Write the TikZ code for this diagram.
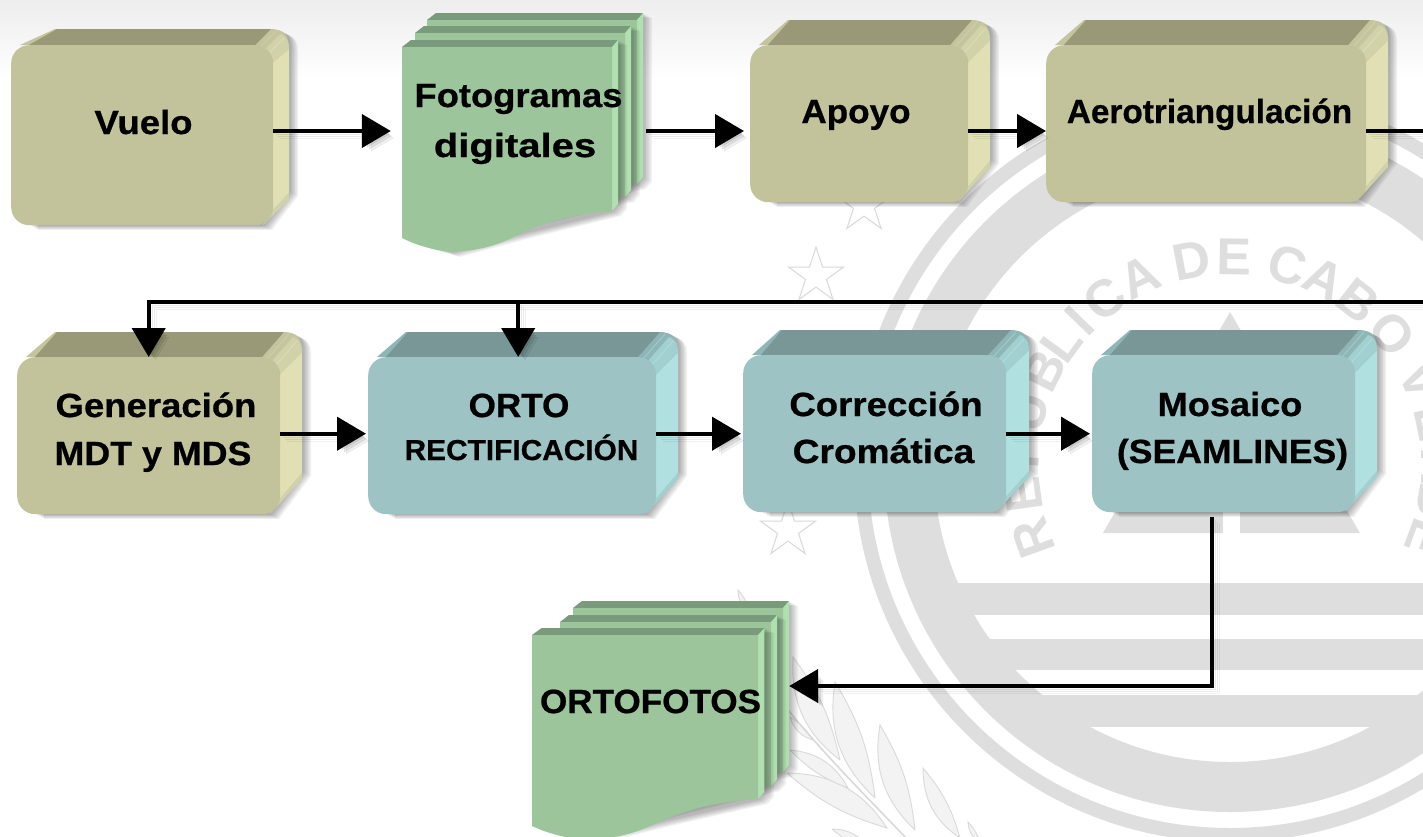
\documentclass[tikz,border=0pt]{standalone}
\usepackage{graphicx}
\usepackage{fontspec}
\setmainfont{Liberation Sans}[BoldFeatures={FakeStretch=1.08,FakeBold=0.7}]
\newfontfamily\sealfont{Liberation Sans Bold}
\usetikzlibrary{arrows.meta,calc,shapes.geometric}
\definecolor{olivef}{HTML}{C2C39B}\definecolor{olivet}{HTML}{999978}\definecolor{olives}{HTML}{E0E0B4}\definecolor{olivem}{HTML}{C4C49E}\definecolor{olivel}{HTML}{D2D2AA}
\definecolor{tealf}{HTML}{9DC3C4}\definecolor{tealt}{HTML}{7A9797}\definecolor{teals}{HTML}{B0E0E0}\definecolor{tealm}{HTML}{8FB5B6}\definecolor{teall}{HTML}{A2CFCF}
\definecolor{sheetf}{HTML}{9CC59C}\definecolor{sheets}{HTML}{B0E0B0}\definecolor{sheett}{HTML}{7A9A7C}
\definecolor{sealgray}{HTML}{DEDEDE}\definecolor{leaffill}{HTML}{F3F3F3}\definecolor{leafline}{HTML}{D9D9D9}
\tikzset{
  lab/.style={font=\bfseries\fontsize{32.5}{36}\selectfont,text=black,inner sep=0pt,anchor=base},
  labsmall/.style={font=\bfseries\fontsize{28}{32}\selectfont,text=black,inner sep=0pt,anchor=base},
  conn/.style={line width=4.4pt,draw=black,-{Triangle[length=29pt,width=33pt]},
    preaction={draw=black,opacity=.06,transform canvas={xshift=7pt,yshift=-7pt}},
    preaction={draw=black,opacity=.08,transform canvas={xshift=5pt,yshift=-5pt}},
    preaction={draw=black,opacity=.08,transform canvas={xshift=3pt,yshift=-3pt}}},
  connplain/.style={line width=4.4pt,draw=black,
    preaction={draw=black,opacity=.06,transform canvas={xshift=7pt,yshift=-7pt}},
    preaction={draw=black,opacity=.08,transform canvas={xshift=5pt,yshift=-5pt}},
    preaction={draw=black,opacity=.08,transform canvas={xshift=3pt,yshift=-3pt}}},
  leafshape/.style={fill=leaffill,draw=leafline,line width=.9pt},
  starmark/.style={star,star points=5,star point ratio=2.618,draw=leafline,line width=1pt,inner sep=0pt,minimum size=58pt},
  sealletter/.style={font=\sealfont\fontsize{52}{52}\selectfont,text=sealgray,inner sep=0pt}
}
\newcommand\tx[2]{\scalebox{#1}[1.03]{#2}}
% name, x0,y0,x1,y1, dx,dy, palette
\newcommand\solidbox[8]{%
  \foreach \s in {1.5,3,4.5,6,7.5,9}{%
    \fill[black,opacity=.06,xshift=\s pt,yshift={-0.55*\s*1pt}]
      (#2+18,#3) -- (#2+60-#6,#3-#7) -- (#4+#6-19,#3-#7)
      .. controls (#4+#6-5,#3-#7) and (#4+#6,#3-#7+6) .. (#4+#6,#3-#7+16)
      -- (#4+#6,#5-#7-18) -- (#4-10,#5) -- (#2+18,#5) -- cycle;
  }
  \fill[#8m] (#2+9,#3) -- (#2+60-#6,#3-#7) -- (#2+68-#6,#3-#7) -- (#2+24,#3) -- cycle;
  \fill[#8s] (#4-1,#3+15) -- (#4+#6,#3-#7+18) -- (#4+#6,#5-#7-16) -- (#4-1,#5-14) -- cycle;
  \fill[#8m] (#4-18,#3) -- (#4-18+#6,#3-#7) -- (#4+#6-19,#3-#7)
      .. controls (#4+#6-5,#3-#7) and (#4+#6,#3-#7+6) .. (#4+#6,#3-#7+20)
      -- (#4-1,#3+18) -- cycle;
  \fill[#8l] (#4-9,#3+5) -- (#4-9+#6,#3-#7+5) .. controls (#4+#6-5,#3-#7+6) and (#4+#6,#3-#7+10) .. (#4+#6,#3-#7+20) -- (#4-1,#3+18) -- cycle;
  \draw[#8l,line width=.7pt] (#4-13,#3+2) -- (#4-13+#6,#3-#7+2);
  \draw[#8s,line width=.7pt] (#4-5,#3+9) -- (#4-5+#6,#3-#7+9);
  \fill[#8l] (#4-1,#5-14) -- (#4+#6,#5-#7-16) -- (#4+#6,#5-#7-10) -- (#4-10,#5) -- cycle;
  \fill[#8t] (#2+18,#3) -- (#2+62-#6,#3-#7) -- (#4-18+#6,#3-#7) -- (#4-18,#3) -- cycle;
  \node[fill=#8f,rounded corners=18pt,inner sep=0pt,anchor=north west,
    minimum width={(#4-#2)*1pt},minimum height={(#5-#3)*1pt}] (#1) at (#2,#3) {};
}
% x, ytop, width
\newcommand\pagesheet[3]{%
  \begin{scope}[shift={(#1,#2)},xscale=#3/210]
    \foreach \s in {1.5,3,4.5,6,7.5,9}{%
      \fill[black,opacity=.05,xshift=\s pt,yshift={-0.55*\s*1pt}]
        (9,-7) -- (216,-7) -- (216,157) -- (210,164) -- (120,186) -- (49,205) -- (0,191) -- (0,0) -- cycle;
    }
    \fill[sheett] (0,0) -- (9,-7) -- (216,-7) -- (210,0) -- cycle;
    \fill[sheets] (210,0) -- (216,-7) -- (216,157) -- (210,164) -- cycle;
    \fill[sheetf] (0,0) -- (210,0) -- (210,164)
      .. controls (180,166) and (150,172) .. (120,186)
      .. controls (100,196) and (85,203) .. (49,205)
      .. controls (30,203) and (15,198) .. (0,191) -- cycle;
  \end{scope}
}
\newcommand\leaf[4]{\draw[leafshape] (#1,#2) to[bend left=28] (#3,#4) to[bend left=12] (#1,#2);}
\begin{document}
\begin{tikzpicture}[x=1pt,y=-1pt]
  \path[use as bounding box] (0,0) rectangle (1423,836);
  \clip (0,0) rectangle (1423,836);
  \fill[white] (0,0) rectangle (1423,836);
  \shade[top color=black!7,bottom color=white] (0,0) rectangle (1423,80);
  % seal
  \coordinate (c) at (1230,466);
  \fill[sealgray,even odd rule] (c) circle[radius=376pt] (c) circle[radius=362pt];
  \fill[sealgray,even odd rule] (c) circle[radius=346pt] (c) circle[radius=296pt];
  \begin{scope}
    \clip (c) circle[radius=300pt];
    \fill[sealgray] (900,583) rectangle (1423,615);
    \fill[sealgray] (900,639) rectangle (1423,670);
    \fill[sealgray] (900,695) rectangle (1423,727);
  \end{scope}
  \fill[sealgray] (1230,312) -- (1360,533) -- (1103,533) -- cycle;
  \fill[white] (1223,400) rectangle (1240,534);
  \foreach \ch/\th [count=\n] in {R/-110,E/-98,P/-86,U/-75,B/-63,L/-54,I/-46,C/-37,A/-25.5,D/-10.7,E/1,C/16,A/26.7,B/38,O/50.7,V/66,E/78,R/90,D/100,E/110}
    \node[sealletter,rotate={0-\th}] (sl\n) at ({1230+209*sin(\th)},{466-209*cos(\th)}) {\ch};
  % stars
  \node[starmark] (st1) at (864,205) {};
  \node[starmark] (st2) at (816,276) {};
  \node[starmark] (st3) at (788,530) {};
  % laurel
  \leaf{875}{798}{835}{682}
  \leaf{915}{830}{880}{725}
  \leaf{960}{838}{923}{768}
  \leaf{980}{842}{968}{822}
  \leaf{840}{760}{793}{657}
  \leaf{813}{740}{790}{717}
  \leaf{750}{612}{738}{590}
  \leaf{787}{773}{887}{828}
  \leaf{790}{750}{848}{788}
  \leaf{832}{829}{870}{850}
  \draw[leafline,line width=1.6pt] (780,700) .. controls (820,750) and (860,790) .. (908,840);
  % first row
  \solidbox{vuelo}{11}{45}{273}{225}{16}{16}{olive}
  \pagesheet{427}{20}{210}
  \pagesheet{415}{33}{210}
  \pagesheet{402}{47}{210}
  \node[inner sep=0pt,minimum width=244pt,minimum height=236pt] (foto) at (524,131) {};
  \solidbox{apoyo}{750}{45}{968}{202}{22}{25}{olive}
  \solidbox{aero}{1046}{45}{1366}{202}{22}{25}{olive}
  % second row
  \solidbox{gen}{17}{357}{280}{514}{22}{25}{olive}
  \solidbox{orto}{368}{357}{656}{514}{22}{25}{teal}
  \solidbox{corr}{743}{355}{1006}{512}{23}{25}{teal}
  \solidbox{mos}{1092}{355}{1355}{512}{22}{25}{teal}
  % output stack
  \pagesheet{573}{608}{210}
  \pagesheet{560}{622}{211}
  \pagesheet{532}{635}{226}
  \node[inner sep=0pt,minimum width=257pt,minimum height=235pt] (ortho) at (660.5,718.5) {};
  % named free ends
  \coordinate (offA) at (1423,131);
  \coordinate (offB) at (1423,302);
  \coordinate (mosout) at ([xshift=-11.5pt,yshift=-5pt]mos.south);
  \coordinate (orthoin) at ([yshift=32.5pt]ortho.east);
  % connectors
  \draw[conn,shorten >=11pt] (vuelo.east |- foto.west) -- (foto.west);
  \draw[conn,shorten >=6pt] (foto.east) -- (apoyo.west |- foto.east);
  \draw[conn] (apoyo.east |- foto.east) -- (aero.west |- foto.east);
  \draw[connplain] (aero.east |- foto.east) -- (offA);
  \draw[conn] (offB) -- (gen.north |- offB) -- (gen.north);
  \draw[conn] ([xshift=6pt]orto.north |- offB) -- ([xshift=6pt]orto.north);
  \draw[conn,shorten >=2pt] (gen.east |- corr.west) -- (orto.west |- corr.west);
  \draw[conn,shorten >=2pt] (orto.east |- corr.west) -- (corr.west);
  \draw[conn,shorten >=2pt] (corr.east) -- (mos.west);
  \draw[conn] (mosout) |- (orthoin);
  % labels
  \node[lab] (tvuelo) at (143.5,134) {\tx{1.04}{Vuelo}};
  \node[lab] (tfoto) at (518.5,107) {\tx{1.035}{Fotogramas}};
  \node[lab] (tdig) at (515,157) {\tx{1.14}{digitales}};
  \node[lab] (tapoyo) at (856,123) {\tx{1}{Apoyo}};
  \node[lab] (taero) at (1209.5,123) {\tx{.95}{Aerotriangulación}};
  \node[lab] (tgen) at (156,417) {\tx{1.04}{Generación}};
  \node[lab] (tmdt) at (153,465) {\tx{1.02}{MDT y MDS}};
  \node[lab] (torto) at (519,417) {\tx{1}{ORTO}};
  \node[labsmall] (trect) at (521.5,460) {\tx{.987}{RECTIFICACIÓN}};
  \node[lab] (tcorr) at (886,416) {\tx{1.043}{Corrección}};
  \node[lab] (tcrom) at (883.5,463) {\tx{1.058}{Cromática}};
  \node[lab] (tmos) at (1230,416) {\tx{1.03}{Mosaico}};
  \node[lab] (tseam) at (1232.5,463) {\tx{1.013}{(SEAMLINES)}};
  \node[lab] (tfotos) at (650.5,713) {\tx{1}{ORTOFOTOS}};
\end{tikzpicture}
\end{document}
